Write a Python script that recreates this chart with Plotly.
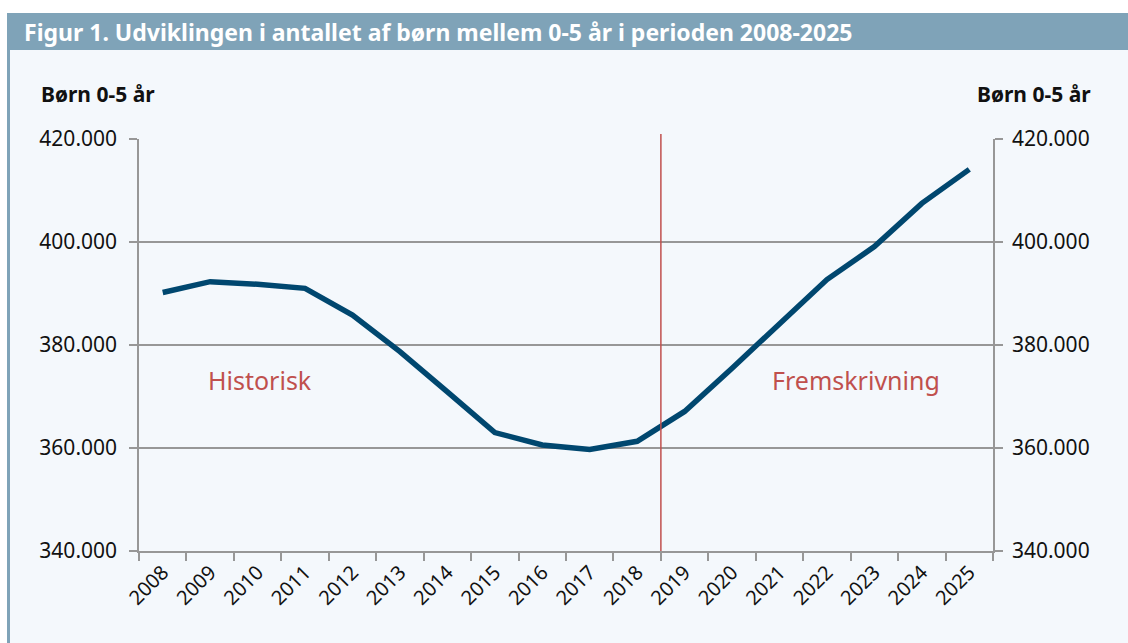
import plotly.graph_objects as go

years = ["2008", "2009", "2010", "2011", "2012", "2013", "2014", "2015", "2016",
         "2017", "2018", "2019", "2020", "2021", "2022", "2023", "2024", "2025"]
children = [390200, 392300, 391800, 391000, 385800, 378700, 370900, 363000, 360600,
            359700, 361300, 367100, 375500, 384000, 392700, 399100, 407500, 414100]
y_tick_vals = [340000, 360000, 380000, 400000, 420000]
y_tick_text = ["340.000", "360.000", "380.000", "400.000", "420.000"]
title_text = "Figur 1. Udviklingen i antallet af børn mellem 0-5 år i perioden 2008-2025"
axis_title = "Børn 0-5 år"
label_hist = "Historisk"
label_proj = "Fremskrivning"
split_after = "2018"

W, H = 1128, 643
L, R, T, B = 139, 993, 139, 551


def px(x):
    return (x - L) / (R - L)


def py(y):
    return (B - y) / (B - T)


BAR = "#7fa3b8"
BG = "#f4f8fc"
GRID = "#979797"
RED = "#c0504d"
LINE = "#00476f"
FONT = "Noto Sans"

fig = go.Figure()
fig.add_trace(go.Scatter(x=years, y=children, mode="lines",
                         line=dict(color=LINE, width=5.5), showlegend=False,
                         hoverinfo="x+y"))
fig.add_trace(go.Scatter(x=years, y=children, mode="lines", yaxis="y2",
                         line=dict(color=LINE, width=0), opacity=0,
                         showlegend=False, hoverinfo="skip"))

axis_common = dict(range=[340000, 420000], tickvals=y_tick_vals, ticktext=y_tick_text,
                   ticks="outside", ticklen=8, tickcolor=GRID, tickwidth=1.5,
                   showline=True, linecolor=GRID, linewidth=1.5, zeroline=False,
                   tickfont=dict(family=FONT, size=21, color="#111"), fixedrange=True)

split_idx = years.index(split_after) + 0.5

shapes = [
    dict(type="rect", xref="paper", yref="paper", x0=px(0), x1=px(W), y0=py(0), y1=py(13),
         fillcolor="white", line_width=0, layer="below"),
    dict(type="rect", xref="paper", yref="paper", x0=px(0), x1=px(7), y0=py(0), y1=py(H),
         fillcolor="white", line_width=0, layer="below"),
    dict(type="rect", xref="paper", yref="paper", x0=px(7), x1=px(W), y0=py(13), y1=py(50),
         fillcolor=BAR, line_width=0, layer="below"),
    dict(type="rect", xref="paper", yref="paper", x0=px(7), x1=px(10), y0=py(50), y1=py(H),
         fillcolor=BAR, line_width=0, layer="below"),
    dict(type="line", xref="x", yref="paper", x0=split_idx, x1=split_idx, y0=0, y1=py(134),
         line=dict(color=RED, width=1.5)),
]

annotations = [
    dict(text=f"<b>{title_text}</b>", xref="paper", yref="paper", x=px(22), y=py(32),
         xanchor="left", yanchor="middle", showarrow=False,
         font=dict(family=FONT, size=23, color="white")),
    dict(text=f"<b>{axis_title}</b>", xref="paper", yref="paper", x=px(39), y=py(94),
         xanchor="left", yanchor="middle", showarrow=False,
         font=dict(family=FONT, size=21, color="#111")),
    dict(text=f"<b>{axis_title}</b>", xref="paper", yref="paper", x=px(1093), y=py(94),
         xanchor="right", yanchor="middle", showarrow=False,
         font=dict(family=FONT, size=21, color="#111")),
    dict(text=label_hist, xref="paper", yref="y", x=px(259.5), y=373200,
         xanchor="center", yanchor="middle", showarrow=False,
         font=dict(family=FONT, size=25, color=RED)),
    dict(text=label_proj, xref="paper", yref="y", x=px(856), y=373200,
         xanchor="center", yanchor="middle", showarrow=False,
         font=dict(family=FONT, size=25, color=RED)),
]

fig.update_layout(
    width=W, height=H, autosize=False,
    margin=dict(l=L, r=W - R, t=T, b=H - B, pad=0),
    paper_bgcolor=BG, plot_bgcolor=BG,
    showlegend=False,
    xaxis=dict(type="category", tickson="boundaries", range=[-0.5, len(years) - 0.5],
               ticks="outside", ticklen=8, tickcolor=GRID, tickwidth=1.5,
               showline=True, linecolor=GRID, linewidth=1.5, showgrid=False,
               tickangle=-45, tickfont=dict(family=FONT, size=20, color="#111"),
               fixedrange=True),
    yaxis=dict(**axis_common, side="left", showgrid=True, gridcolor=GRID, gridwidth=1.5,
               ticklabelstandoff=8),
    yaxis2=dict(**axis_common, side="right", overlaying="y", showgrid=False,
                ticklabelstandoff=5),
    shapes=shapes,
    annotations=annotations,
)

fig.write_html("out.html", config={"displayModeBar": False},
               post_script="document.body.style.margin='0px';")
